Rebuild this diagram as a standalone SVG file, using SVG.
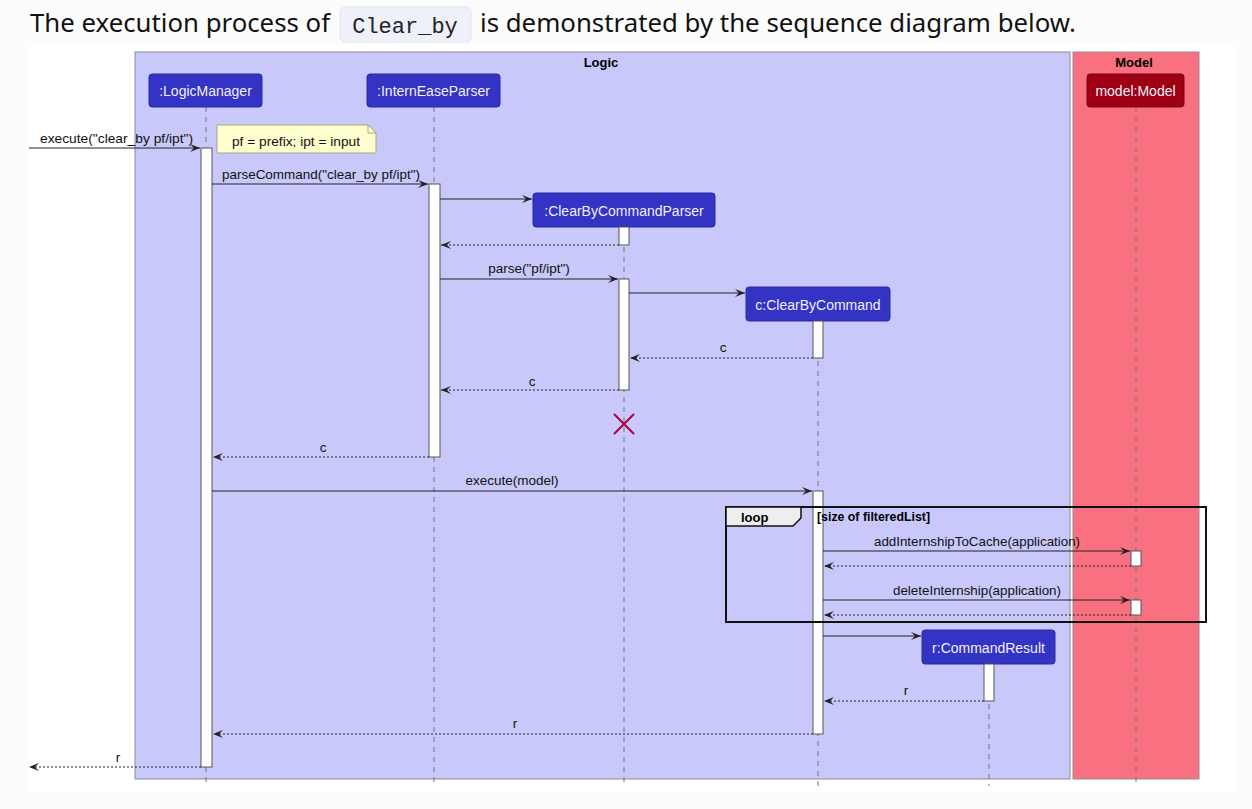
<svg xmlns="http://www.w3.org/2000/svg" width="1252" height="809" viewBox="0 0 1252 809">
<defs>
<style>
.part{fill:#3333C4;stroke:#2a2aa0;stroke-width:1}
.ptxt{font-family:"Liberation Sans",Arial,sans-serif;font-size:14px;fill:#f0f0ff;text-anchor:middle}
.life{stroke:#75758a;stroke-width:1;stroke-dasharray:5,5;fill:none}
.act{fill:#ffffff;stroke:#555555;stroke-width:1}
.msg{stroke:#222222;stroke-width:1;fill:none}
.ret{stroke:#222222;stroke-width:1;stroke-dasharray:2,2;fill:none}
.lbl{font-family:"Liberation Sans",Arial,sans-serif;font-size:13.5px;fill:#111111}
.mid{text-anchor:middle}
.boxlbl{font-family:"Liberation Sans",Arial,sans-serif;font-size:13px;font-weight:bold;fill:#000;text-anchor:middle}
</style>
<marker id="ah" viewBox="0 0 10 8" refX="10" refY="4" markerWidth="10" markerHeight="8" markerUnits="userSpaceOnUse" orient="auto">
<path d="M0,0 L10,4 L0,8 L4,4 Z" fill="#222222"/>
</marker>
</defs>
<rect x="0" y="0" width="1252" height="809" fill="#fcfcfc"/>
<g id="title">
<text x="30" y="32" font-family="'Noto Sans','Open Sans',sans-serif" font-size="25.5" fill="#111" textLength="300" lengthAdjust="spacingAndGlyphs">The execution process of</text>
<rect x="340" y="7" width="131" height="35" rx="5" fill="#eef0fa" stroke="#e2e4f2"/>
<text x="405" y="33" font-family="'Liberation Mono','DejaVu Sans Mono',monospace" font-size="22" fill="#222" text-anchor="middle">Clear_by</text>
<text x="480" y="32" font-family="'Noto Sans','Open Sans',sans-serif" font-size="25.5" fill="#111" textLength="596" lengthAdjust="spacingAndGlyphs">is demonstrated by the sequence diagram below.</text>
</g>
<rect x="29" y="45" width="1208" height="747" fill="#ffffff"/>
<g id="box-logic">
<rect x="135" y="52" width="935" height="727" fill="#C8C8FA" stroke="#8a8a9a" stroke-width="1"/>
<text x="601" y="67" class="boxlbl">Logic</text>
</g>
<g id="box-model">
<rect x="1073" y="52" width="126" height="727" fill="#F97181" stroke="#9a8a8a" stroke-width="1"/>
<text x="1134" y="67" class="boxlbl">Model</text>
</g>
<g id="lifelines">
<line class="life" x1="206" y1="107" x2="206" y2="786"/>
<line class="life" x1="434" y1="107" x2="434" y2="786"/>
<line class="life" x1="624" y1="227" x2="624" y2="786"/>
<line class="life" x1="818" y1="321" x2="818" y2="786"/>
<line class="life" x1="989" y1="664" x2="989" y2="786"/>
<line class="life" x1="1136" y1="107" x2="1136" y2="786" stroke="#8a4a5a"/>
</g>
<g id="LogicManager">
<rect class="part" x="149" y="74" width="113" height="33" rx="3"/>
<text class="ptxt" x="205.5" y="96">:LogicManager</text>
</g>
<g id="InternEaseParser">
<rect class="part" x="367" y="74" width="133" height="33" rx="3"/>
<text class="ptxt" x="433.5" y="96">:InternEaseParser</text>
</g>
<g id="ModelParticipant">
<rect x="1087" y="74" width="97" height="33" rx="3" fill="#9D0012" stroke="#7a000e"/>
<text class="ptxt" x="1135.5" y="96">model:Model</text>
</g>
<g id="ClearByCommandParser">
<rect class="part" x="533" y="193" width="182" height="34" rx="3"/>
<text class="ptxt" x="624" y="216">:ClearByCommandParser</text>
</g>
<g id="ClearByCommand">
<rect class="part" x="746" y="287" width="144" height="34" rx="3"/>
<text class="ptxt" x="818" y="310">c:ClearByCommand</text>
</g>
<g id="CommandResult">
<rect class="part" x="922" y="630" width="133" height="34" rx="3"/>
<text class="ptxt" x="988.5" y="653">r:CommandResult</text>
</g>
<g id="activations">
<rect class="act" x="201" y="148" width="11" height="619"/>
<rect class="act" x="429" y="184" width="11" height="273"/>
<rect class="act" x="619" y="227" width="10" height="18"/>
<rect class="act" x="619" y="279" width="10" height="111"/>
<rect class="act" x="813" y="321" width="10" height="37"/>
<rect class="act" x="813" y="491" width="10" height="243"/>
<rect class="act" x="984" y="664" width="10" height="37"/>
<rect class="act" x="1131" y="551" width="10" height="15"/>
<rect class="act" x="1131" y="600" width="10" height="15"/>
</g>
<g id="note">
<path d="M217,125 L368,125 L376,133 L376,153 L217,153 Z" fill="#FEFECE" stroke="#a8a880" stroke-width="1"/>
<path d="M368,125 L368,133 L376,133" fill="none" stroke="#a8a880" stroke-width="1"/>
<text class="lbl" x="232" y="146" font-size="13" textLength="128" lengthAdjust="spacingAndGlyphs">pf = prefix; ipt = input</text>
</g>
<g id="loop-frame">
<rect x="726" y="507" width="480" height="115" fill="none" stroke="#111" stroke-width="2"/>
<path d="M726,507 L801,507 L801,518 L793,526 L726,526 Z" fill="#EEEEEE" stroke="#111" stroke-width="1.5"/>
<text x="741" y="522" font-family="'Liberation Sans',Arial,sans-serif" font-size="13" font-weight="bold" fill="#000">loop</text>
<text x="817" y="521" font-family="'Liberation Sans',Arial,sans-serif" font-size="12" font-weight="bold" fill="#000" textLength="113" lengthAdjust="spacingAndGlyphs">[size of filteredList]</text>
</g>
<g id="connectors">
<line class="msg" x1="29" y1="148" x2="200" y2="148" marker-end="url(#ah)"/>
<text class="lbl" x="40" y="143" textLength="153" lengthAdjust="spacingAndGlyphs">execute("clear_by pf/ipt")</text>
<line class="msg" x1="212" y1="184" x2="428" y2="184" marker-end="url(#ah)"/>
<text class="lbl" x="222" y="179" textLength="198" lengthAdjust="spacingAndGlyphs">parseCommand("clear_by pf/ipt")</text>
<line class="msg" x1="440" y1="199" x2="532" y2="199" marker-end="url(#ah)"/>
<line class="ret" x1="619" y1="245" x2="441" y2="245" marker-end="url(#ah)"/>
<line class="msg" x1="440" y1="279" x2="618" y2="279" marker-end="url(#ah)"/>
<text class="lbl mid" x="529" y="273">parse("pf/ipt")</text>
<line class="msg" x1="629" y1="293" x2="745" y2="293" marker-end="url(#ah)"/>
<line class="ret" x1="813" y1="358" x2="630" y2="358" marker-end="url(#ah)"/>
<text class="lbl mid" x="723" y="352">c</text>
<line class="ret" x1="619" y1="390" x2="441" y2="390" marker-end="url(#ah)"/>
<text class="lbl mid" x="532" y="386">c</text>
<g id="destroy">
<line x1="614" y1="414" x2="634" y2="434" stroke="#A80036" stroke-width="2"/>
<line x1="634" y1="414" x2="614" y2="434" stroke="#A80036" stroke-width="2"/>
</g>
<line class="ret" x1="429" y1="457" x2="213" y2="457" marker-end="url(#ah)"/>
<text class="lbl mid" x="323" y="452">c</text>
<line class="msg" x1="212" y1="491" x2="812" y2="491" marker-end="url(#ah)"/>
<text class="lbl mid" x="512" y="485">execute(model)</text>
<line class="msg" x1="823" y1="551" x2="1130" y2="551" marker-end="url(#ah)"/>
<text class="lbl mid" x="977" y="546" textLength="206" lengthAdjust="spacingAndGlyphs">addInternshipToCache(application)</text>
<line class="ret" x1="1131" y1="566" x2="824" y2="566" marker-end="url(#ah)"/>
<line class="msg" x1="823" y1="600" x2="1130" y2="600" marker-end="url(#ah)"/>
<text class="lbl mid" x="977" y="595" textLength="168" lengthAdjust="spacingAndGlyphs">deleteInternship(application)</text>
<line class="ret" x1="1131" y1="615" x2="824" y2="615" marker-end="url(#ah)"/>
<line class="msg" x1="823" y1="636" x2="921" y2="636" marker-end="url(#ah)"/>
<line class="ret" x1="984" y1="701" x2="824" y2="701" marker-end="url(#ah)"/>
<text class="lbl mid" x="906" y="695">r</text>
<line class="ret" x1="813" y1="734" x2="213" y2="734" marker-end="url(#ah)"/>
<text class="lbl mid" x="515" y="728">r</text>
<line class="ret" x1="201" y1="767" x2="29" y2="767" marker-end="url(#ah)"/>
<text class="lbl mid" x="118" y="762">r</text>
</g>
</svg>
